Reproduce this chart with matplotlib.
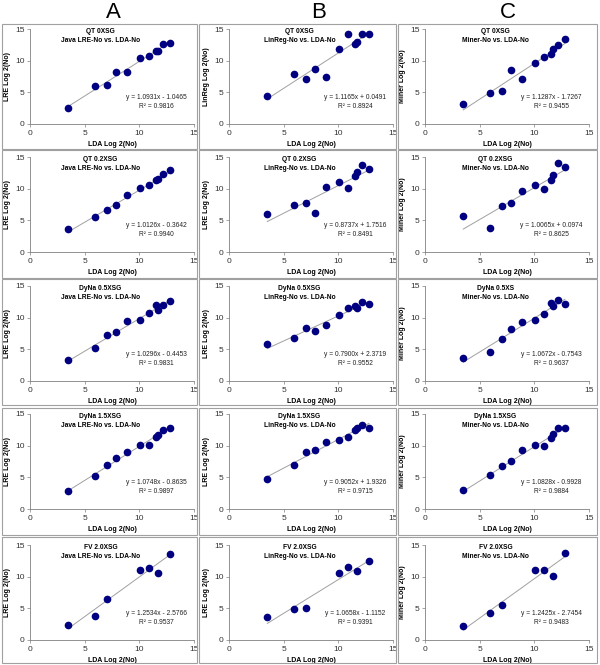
import matplotlib
matplotlib.use("Agg")
import matplotlib.pyplot as plt
from matplotlib.patches import Rectangle

plt.rcParams["font.family"] = ["Liberation Sans", "DejaVu Sans"]

# LDA Log 2(No) values (x axis), shared by the panels
lda = [3.5, 5.95, 7.0, 7.85, 8.9, 10.05, 10.85, 11.5, 11.7, 12.2, 12.8]
lda_fv = [3.5, 5.95, 7.0, 10.05, 10.85, 11.7, 12.8]

conditions = ["QT 0XSG", "QT 0.2XSG", "DyNa 0.5XSG", "DyNa 1.5XSG", "FV 2.0XSG"]
col_letters = ["A", "B", "C"]
subtitles = ["Java LRE-No vs. LDA-No", "LinReg-No vs. LDA-No", "Miner-No vs. LDA-No"]

# column A: Java LRE
lre_y = [
    [2.55, 5.96, 6.12, 8.24, 8.19, 10.48, 10.74, 11.55, 11.6, 12.66, 12.82],
    [3.59, 5.47, 6.61, 7.5, 9.01, 10.1, 10.52, 11.3, 11.46, 12.24, 12.97],
    [3.33, 5.16, 7.29, 7.66, 9.53, 9.69, 10.73, 11.98, 11.25, 12.03, 12.66],
    [2.88, 5.14, 6.97, 8.08, 9.07, 10.17, 10.07, 11.33, 11.64, 12.53, 12.85],
    [2.3, 3.8, 6.4, 11.1, 11.4, 10.6, 13.6],
]
# column B: LinReg
linreg_y = [
    [4.39, 7.82, 7.18, 8.68, 7.5, 11.9, 14.2, 12.59, 12.96, 14.25, 14.2],
    [5.99, 7.45, 7.76, 6.2, 10.21, 11.09, 10.16, 11.93, 12.71, 13.75, 13.18],
    [5.82, 6.76, 8.44, 7.92, 8.81, 10.49, 11.59, 11.85, 11.54, 12.43, 12.16],
    [4.76, 6.93, 9.05, 9.36, 10.6, 10.97, 11.33, 12.47, 12.83, 13.24, 12.78],
    [3.6, 4.9, 5.0, 10.6, 11.6, 10.9, 12.5],
]
# column C: Miner
miner_y = [
    [3.17, 4.97, 5.28, 8.45, 7.03, 9.61, 10.57, 10.99, 11.89, 12.47, 13.37],
    [5.73, 3.8, 7.24, 7.76, 9.58, 10.57, 10.0, 11.35, 12.19, 14.1, 13.44],
    [3.59, 4.64, 6.56, 8.23, 9.38, 9.69, 10.52, 12.29, 11.88, 12.86, 12.14],
    [2.94, 5.3, 6.82, 7.55, 9.28, 10.12, 10.0, 11.28, 11.85, 12.8, 12.85],
    [2.2, 4.2, 5.6, 11.0, 11.1, 10.1, 13.8],
]

slopes = [
    [1.0931, 1.1165, 1.1287],
    [1.0126, 0.8737, 1.0065],
    [1.0296, 0.7900, 1.0672],
    [1.0748, 0.9052, 1.0828],
    [1.2534, 1.0658, 1.2425],
]
intercepts = [
    [-1.0465, 0.0491, -1.7267],
    [-0.3642, 1.7516, 0.0974],
    [-0.4453, 2.3719, -0.7543],
    [-0.8635, 1.9326, -0.9928],
    [-2.5766, -1.1152, -2.7454],
]
r2 = [
    [0.9816, 0.8924, 0.9455],
    [0.9940, 0.8491, 0.8625],
    [0.9831, 0.9552, 0.9637],
    [0.9897, 0.9715, 0.9884],
    [0.9537, 0.9391, 0.9483],
]

W, H = 600, 665
fig = plt.figure(figsize=(W / 100, H / 100), dpi=100)

col_left = [30, 229, 425]
row_top = [29, 157, 286, 414, 545]
ax_w, ax_h = 164, 95
box_left = [2, 199, 398]
box_right = [197, 396, 597]
box_top = [24, 150, 279, 408, 537]
box_bottom = [149, 278, 405, 535, 663]
letter_x = [113, 319, 508]

for c in range(3):
    fig.text(letter_x[c] / W, 1 - 13 / H, col_letters[c], fontsize=16,
             ha="center", va="center")

all_y = [lre_y, linreg_y, miner_y]

for r in range(5):
    for c in range(3):
        fig.patches.append(Rectangle(
            (box_left[c] / W, 1 - box_bottom[r] / H),
            (box_right[c] - box_left[c]) / W, (box_bottom[r] - box_top[r]) / H,
            transform=fig.transFigure, fill=False, edgecolor="#a0a0a0", lw=0.8))

        ax = fig.add_axes([col_left[c] / W, 1 - (row_top[r] + ax_h) / H, ax_w / W, ax_h / H])
        xs = lda_fv if r == 4 else lda
        ys = all_y[c][r]
        a, b = slopes[r][c], intercepts[r][c]
        x0, x1 = min(xs), max(xs)
        ax.plot([x0, x1], [a * x0 + b, a * x1 + b], color="#a0a0a0", lw=0.7, zorder=1)
        ax.plot(xs, ys, "o", color="#000080", ms=4.5, mec="#000080", zorder=2)

        ax.set_xlim(0, 15)
        ax.set_ylim(0, 15)
        ax.set_xticks([0, 5, 10, 15])
        ax.set_yticks([0, 5, 10, 15])
        ax.patch.set_alpha(0)
        for s in ["top", "right"]:
            ax.spines[s].set_visible(False)
        for s in ["left", "bottom"]:
            ax.spines[s].set_color("#808080")
            ax.spines[s].set_linewidth(0.6)
        ax.tick_params(length=2.5, width=0.5, color="#808080", labelsize=6,
                       labelcolor="#333333", pad=1.5)

        ax.set_xlabel("LDA Log 2(No)", fontsize=5, fontweight="bold", labelpad=3.5)
        if c == 0:
            ylab = "LRE Log 2(No)"
        elif c == 1:
            ylab = "LinReg Log 2(No)" if r == 0 else "LRE Log 2(No)"
        else:
            ylab = "Miner Log 2(No)"
        ax.set_ylabel(ylab, fontsize=5, fontweight="bold", labelpad=3)

        cond = conditions[r]
        if r == 2 and c == 2:
            cond = "DyNa 0.5XS"
        ax.text(0.43, 0.97, cond, transform=ax.transAxes, fontsize=4.8,
                fontweight="bold", ha="center", va="center")
        ax.text(0.43, 0.88, subtitles[c], transform=ax.transAxes, fontsize=4.8,
                fontweight="bold", ha="center", va="center")

        sign = "+" if b >= 0 else "-"
        ax.text(0.77, 0.28, f"y = {a:.4f}x {sign} {abs(b):.4f}", transform=ax.transAxes,
                fontsize=4.8, ha="center", va="center", color="#222222")
        ax.text(0.77, 0.18, f"R² = {r2[r][c]:.4f}", transform=ax.transAxes,
                fontsize=4.8, ha="center", va="center", color="#222222")

fig.savefig("out.png", dpi=100)
